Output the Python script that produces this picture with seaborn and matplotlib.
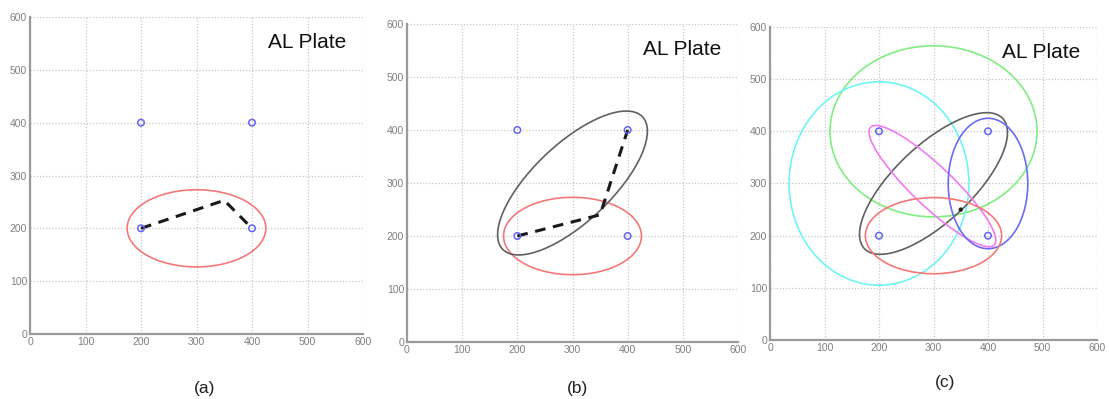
import matplotlib
matplotlib.use("Agg")
import matplotlib.pyplot as plt
from matplotlib.patches import Ellipse
import seaborn as sns
import pandas as pd

# ---- data ----
node_x = [200, 200, 400, 400]
node_y = [200, 400, 200, 400]

path_a_x = [200, 350, 400]
path_a_y = [200, 253, 200]
path_b_x = [200, 350, 400]
path_b_y = [200, 240, 400]

source_x = [350]
source_y = [250]

ell_names = ["red", "black", "green", "cyan", "blue", "magenta"]
ell_cx = [300, 300, 300, 200, 400, 298]
ell_cy = [200, 300, 400, 300, 300, 295]
ell_w = [250, 356, 380, 330, 146, 320]
ell_h = [146, 144, 328, 390, 250, 76]
ell_ang = [0, 45, 0, 0, 0, -45]
ell_col = ["#f47878", "#606060", "#80ee80", "#70f4f4", "#6a6af4", "#f47af4"]

panel_ellipses = [["red"], ["red", "black"],
                  ["green", "cyan", "black", "magenta", "blue", "red"]]
panel_labels = ["(a)", "(b)", "(c)"]
ticks = [0, 100, 200, 300, 400, 500, 600]
title_text = "AL Plate"

sns.set_style("white")
plt.rcParams["font.family"] = ["Liberation Sans", "DejaVu Sans"]

fig = plt.figure(figsize=(11.09, 3.99), dpi=100)
positions = [
    [30 / 1109, 1 - 334 / 399, 333 / 1109, 317 / 399],
    [407 / 1109, 1 - 342 / 399, 331 / 1109, 318 / 399],
    [770 / 1109, 1 - 340 / 399, 327 / 1109, 313 / 399],
]
label_pos = [(205, 388), (578, 388), (945, 382)]

nodes = pd.DataFrame({"x": node_x, "y": node_y})
paths = [pd.DataFrame({"x": path_a_x, "y": path_a_y}),
         pd.DataFrame({"x": path_b_x, "y": path_b_y}), None]

for i, pos in enumerate(positions):
    ax = fig.add_axes(pos)
    ax.set_xlim(0, 600)
    ax.set_ylim(0, 600)
    ax.set_xticks(ticks)
    ax.set_yticks(ticks)
    ax.grid(True, linestyle=(0, (1, 1.5)), color="#c8c8c8", linewidth=0.9)
    ax.set_axisbelow(True)
    for s in ["top", "right"]:
        ax.spines[s].set_visible(False)
    for s in ["left", "bottom"]:
        ax.spines[s].set_color("#9a9a9a")
        ax.spines[s].set_linewidth(1.6)
    ax.tick_params(axis="both", labelsize=7.5, labelcolor="#808080",
                   direction="in", length=2, color="#888888", pad=2)

    for name in panel_ellipses[i]:
        k = ell_names.index(name)
        ax.add_patch(Ellipse((ell_cx[k], ell_cy[k]), ell_w[k], ell_h[k],
                             angle=ell_ang[k], fill=False,
                             edgecolor=ell_col[k], linewidth=1.2, zorder=3))

    if paths[i] is not None:
        sns.lineplot(data=paths[i], x="x", y="y", sort=False, ax=ax,
                     color="#1a1a1a", linewidth=2.2, dashes=False,
                     linestyle=(0, (3.5, 2.5)), zorder=4)
    sns.scatterplot(data=nodes, x="x", y="y", ax=ax, marker="o",
                    facecolor="none", edgecolor="#6464f0", linewidth=1.1,
                    s=22, zorder=5)
    if i == 2:
        sns.scatterplot(x=source_x, y=source_y, ax=ax, color="#222222",
                        s=10, edgecolor="none", zorder=6)
    ax.set_xlabel("")
    ax.set_ylabel("")
    ax.text(0.95, 0.92, title_text, transform=ax.transAxes, ha="right",
            va="center", fontsize=15, color="#111111")
    fig.text(label_pos[i][0] / 1109, 1 - label_pos[i][1] / 399,
             panel_labels[i], ha="center", va="center", fontsize=12.5,
             color="#222222")

fig.savefig("out.png", dpi=100)
